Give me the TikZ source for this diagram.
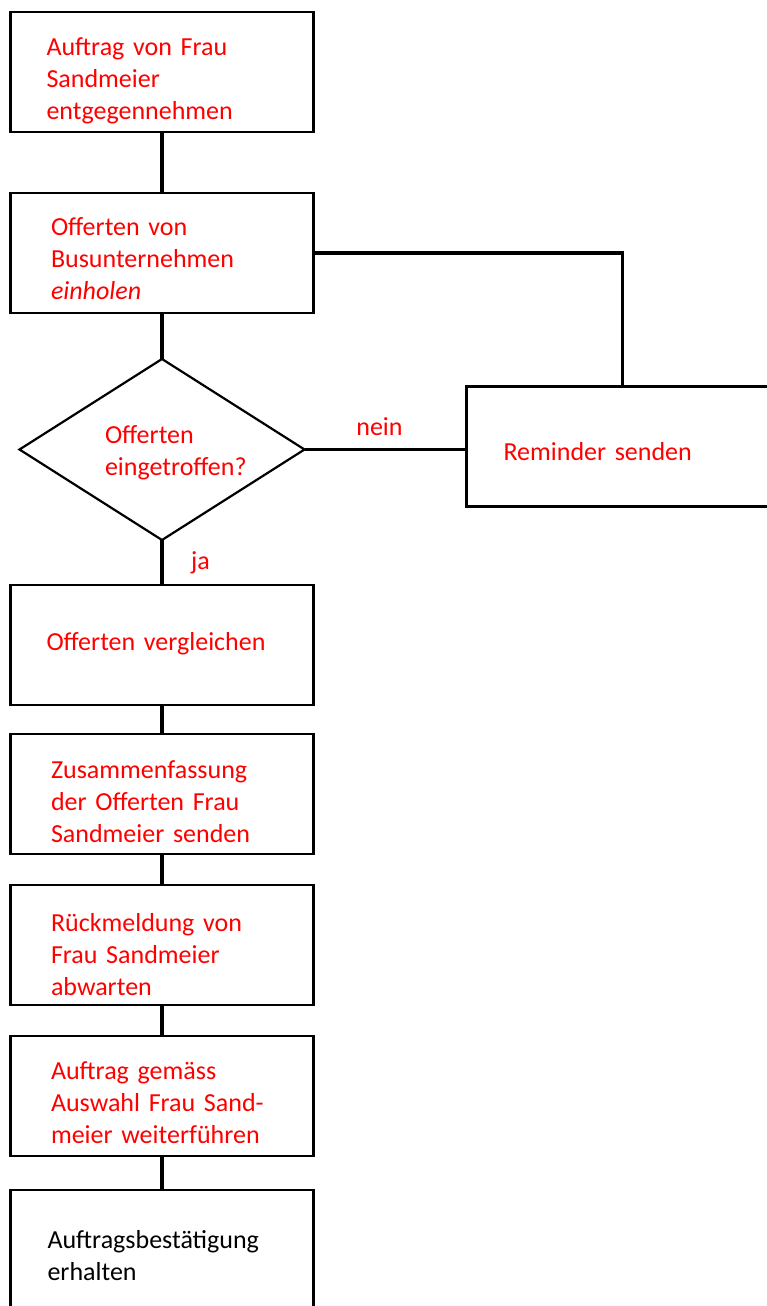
\documentclass[tikz,border=0pt]{standalone}
\usepackage{fontspec}
\setmainfont{Carlito}
\usetikzlibrary{positioning,shapes.geometric}

\begin{document}
\begin{tikzpicture}[
  stepbox/.style={draw, line width=2.2pt, outer sep=0pt, minimum width=303pt, minimum height=120pt, text width=222pt, inner xsep=40pt, align=left, font=\fontsize{26}{32}\selectfont, text=red, text height=29pt},
  query/.style={draw, diamond, shape aspect=1.575, line width=2.2pt, outer sep=0pt, minimum width=285pt, minimum height=181pt, inner sep=0pt, text width=114pt, align=left, font=\fontsize{26}{32}\selectfont, text=red, text height=25pt},
  conn/.style={line width=3.5pt},
  lbl/.style={font=\fontsize{26}{32}\selectfont, text=red}
]
\useasboundingbox (0pt,0pt) rectangle (766pt,-1306pt);

\node[stepbox, inner xsep=36pt, text width=231pt, text height=35pt] (auftrag) at (162pt,-72pt) {Auftrag von Frau\\Sandmeier\\entgegennehmen};
\node[stepbox, below=61pt of auftrag] (einholen) {Offerten von\\Busunternehmen\\\textit{einholen}};
\node[query, below=46pt of einholen] (eingetroffen) {Offerten\\eingetroffen?};
\node[stepbox, right=162pt of eingetroffen, yshift=3pt, minimum width=312pt, inner xsep=37pt, text width=238pt] (reminder) {Reminder senden};
\node[stepbox, below=45pt of eingetroffen, inner xsep=36pt, text width=231pt, text height=16pt] (vergleichen) {Offerten vergleichen};
\node[stepbox, below=29pt of vergleichen, text height=33pt] (zusammenfassung) {Zusammenfassung\\der Offerten Frau\\Sandmeier senden};
\node[stepbox, below=31pt of zusammenfassung, text height=37pt] (rueckmeldung) {Rückmeldung von\\Frau Sandmeier\\abwarten};
\node[stepbox, below=31pt of rueckmeldung, text height=31pt] (weiterfuehren) {Auftrag gemäss\\Auswahl Frau Sand-\\meier weiterführen};
\node[stepbox, below=34pt of weiterfuehren, text=black, inner xsep=37pt, text width=229pt] (bestaetigung) {Auftragsbestätigung\\erhalten};

\draw[conn] (auftrag) -- (einholen);
\draw[conn] (einholen) -- (eingetroffen);
\draw[conn] (einholen.east) -| (reminder.north);
\draw[conn] (eingetroffen.east) -- node[lbl, above=9pt, xshift=-6pt] {nein} (eingetroffen.east -| reminder.west);
\draw[conn] (eingetroffen) -- node[lbl, right=24pt] {ja} (vergleichen);
\draw[conn] (vergleichen) -- (zusammenfassung);
\draw[conn] (zusammenfassung) -- (rueckmeldung);
\draw[conn] (rueckmeldung) -- (weiterfuehren);
\draw[conn] (weiterfuehren) -- (bestaetigung);

\end{tikzpicture}
\end{document}
